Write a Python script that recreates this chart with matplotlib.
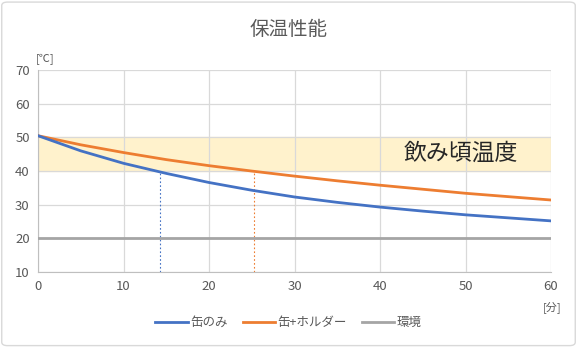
import numpy as np
import matplotlib.pyplot as plt
from matplotlib.patches import FancyBboxPatch

plt.rcParams['font.family'] = ['Noto Sans CJK JP', 'DejaVu Sans']

# 時間 [分]
minutes = [0, 5, 10, 15, 20, 25, 30, 35, 40, 45, 50, 55, 60]
# 缶のみ
can_only = [50.5, 46.0, 42.3, 39.3, 36.6, 34.3, 32.3, 30.7, 29.3, 28.1, 27.0, 26.1, 25.2]
# 缶+ホルダー
can_holder = [50.5, 47.8, 45.5, 43.4, 41.6, 40.0, 38.5, 37.1, 35.8, 34.6, 33.4, 32.4, 31.4]
# 環境
ambient = [20] * len(minutes)
band_low, band_high = 40, 50
cross_blue, cross_orange = 14.3, 25.2

fig = plt.figure(figsize=(5.77, 3.47), dpi=100)
border = FancyBboxPatch((0.003, 0.004), 0.994, 0.99, boxstyle='round,pad=0,rounding_size=0.01',
                        transform=fig.transFigure, fc='none', ec='#D9D9D9', lw=1)
fig.patches.append(border)

ax = fig.add_axes([0.066, 0.216, 0.889, 0.582])
ax.axhspan(band_low, band_high, color='#FFF2CC', zorder=0)
ax.text(49.5, 45.2, '飲み頃温度', fontsize=16.5, ha='center', va='center', color='#262626')

ax.plot([cross_blue, cross_blue], [10, band_low], ls=(0, (1.5, 2)), color='#4472C4', lw=0.8)
ax.plot([cross_orange, cross_orange], [10, band_low], ls=(0, (1.5, 2)), color='#ED7D31', lw=0.8)

ax.plot(minutes, ambient, color='#A5A5A5', lw=2, label='環境', zorder=3)
ax.plot(minutes, can_holder, color='#ED7D31', lw=2, label='缶+ホルダー', zorder=3)
ax.plot(minutes, can_only, color='#4472C4', lw=2, label='缶のみ', zorder=3)

ax.set_xlim(0, 60)
ax.set_ylim(10, 70)
ax.set_xticks(range(0, 61, 10))
ax.set_yticks(range(10, 71, 10))
ax.grid(color='#D9D9D9', lw=0.9)
ax.set_axisbelow(True)
for s in ['top', 'right']:
    ax.spines[s].set_visible(False)
for s in ['left', 'bottom']:
    ax.spines[s].set_color('#BFBFBF')
ax.tick_params(length=0, colors='#595959', labelsize=9.5, pad=6)

ax.text(-0.005, 1.04, '[℃]', transform=ax.transAxes, fontsize=8, color='#595959', ha='left')
ax.text(1.02, -0.19, '[分]', transform=ax.transAxes, fontsize=8, color='#595959', ha='right')

fig.text(0.5, 0.915, '保温性能', ha='center', va='center', fontsize=14, color='#595959')

h, l = ax.get_legend_handles_labels()
fig.legend(h[::-1], l[::-1], loc='center', bbox_to_anchor=(0.5, 0.07), ncol=3, frameon=False,
           fontsize=9, labelcolor='#595959', handlelength=2.6, handletextpad=0.2,
           columnspacing=1.2)

fig.savefig('out.png', dpi=100)
